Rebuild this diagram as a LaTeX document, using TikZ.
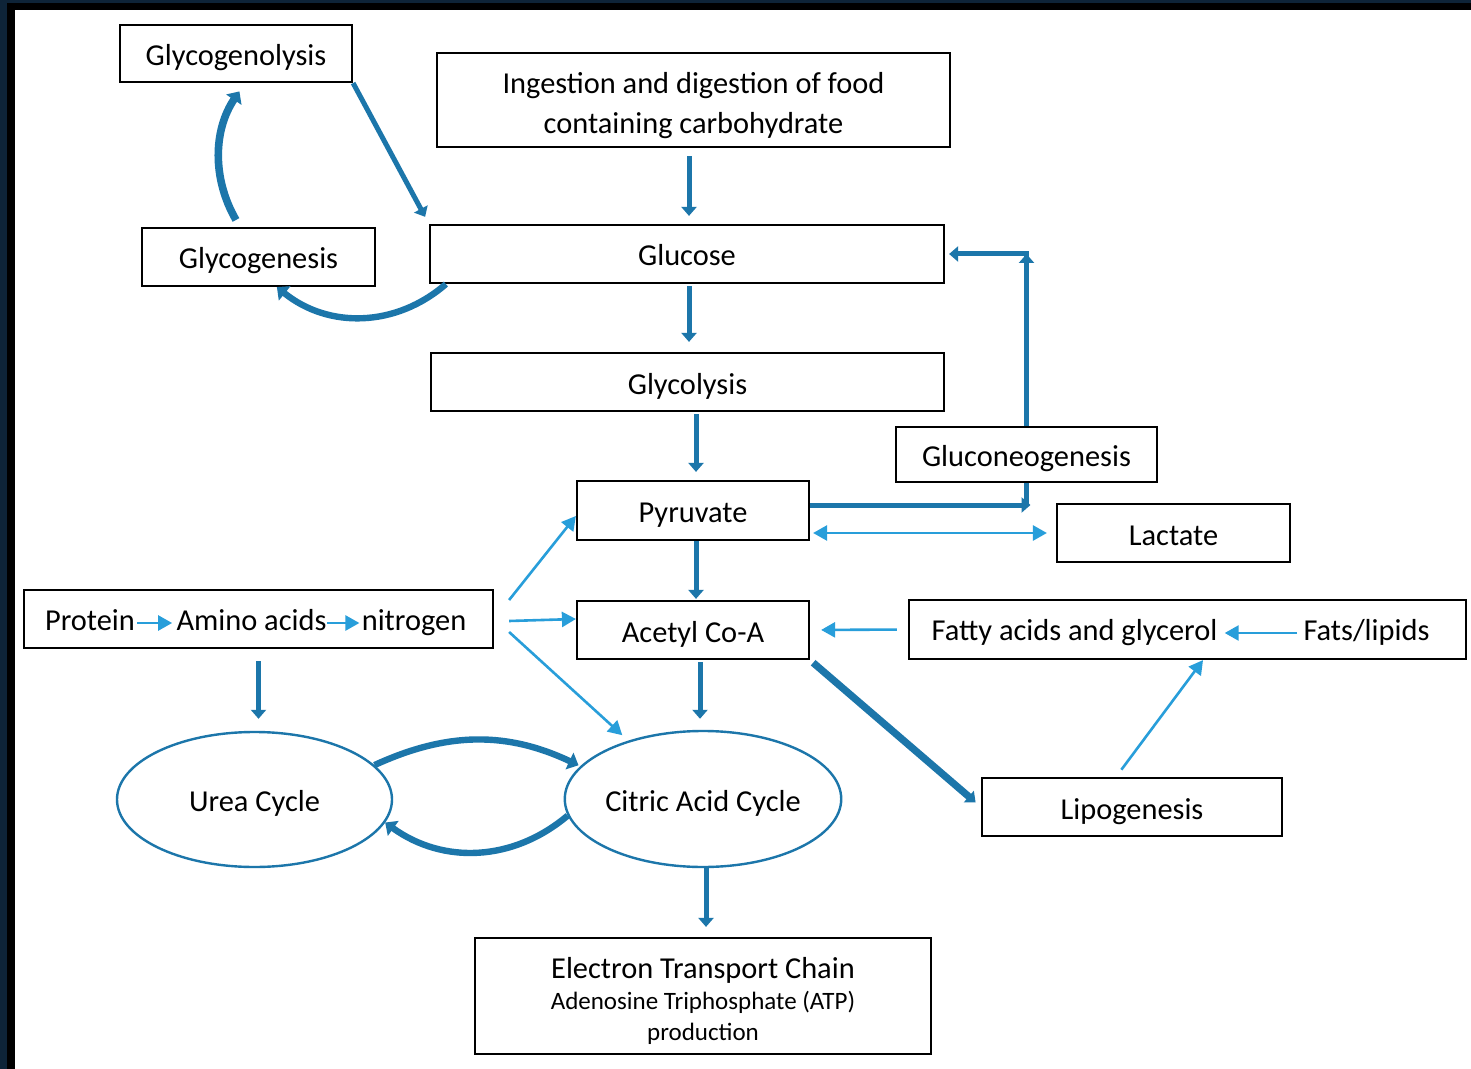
\documentclass[tikz,border=0pt]{standalone}
\usepackage{fontspec}
\setmainfont{Carlito}
\usetikzlibrary{arrows.meta,shapes.geometric}
\definecolor{pathblue}{RGB}{28,118,170}
\definecolor{fluxblue}{RGB}{40,158,218}
\definecolor{framenavy}{RGB}{14,36,56}
\tikzset{
  mainhead/.tip={Triangle[length=4.5pt,width=7.5pt]},
  sidehead/.tip={Triangle[length=7pt,width=7.5pt]},
  bendhead/.tip={Triangle[length=5pt,width=9pt]}
}

\begin{document}
\begin{tikzpicture}[x=0.5pt,y=-0.5pt,font=\fontsize{15.2}{19}\selectfont,
  box/.style={draw,line width=1.1pt,inner sep=0pt,text height=13.5pt,text depth=1.5pt},
  wordnode/.style={inner sep=0pt,text height=9pt,text depth=2pt},
  cyclenode/.style={ellipse,draw=pathblue,line width=1.2pt,inner sep=0pt,text height=13.5pt,text depth=1.5pt,minimum width=137.5pt,minimum height=67.5pt},
  mainflow/.style={draw=pathblue,line width=2.5pt,-mainhead},
  sideflow/.style={draw=fluxblue,line width=1.3pt,-sidehead},
  bendflow/.style={draw=pathblue,line width=3.2pt,-bendhead}]
\useasboundingbox (0,0) rectangle (1471,1069);
\fill[framenavy] (0,0) rectangle (1471,1069);
\fill[black] (7,3) rectangle (1471,1069);
\fill[white] (15,10) rectangle (1471,1069);

% boxes
\node[box,minimum width=116pt,minimum height=28.5pt] (glycogenolysis) at (236,53.5) {Glycogenolysis};
\node[draw,line width=1.1pt,align=center,inner sep=0pt,minimum width=256.5pt,minimum height=47pt,text height=36.5pt,text depth=3pt,font=\fontsize{15.2}{20}\selectfont] (ingestion) at (693.5,100) {Ingestion and digestion of food\\containing carbohydrate};
\node[box,minimum width=257pt,minimum height=29pt] (glucose) at (687,254) {Glucose};
\node[box,minimum width=116.5pt,minimum height=29pt] (glycogenesis) at (258.5,257) {Glycogenesis};
\node[box,minimum width=256.5pt,minimum height=29pt] (glycolysis) at (687.5,382) {Glycolysis};
\node[box,minimum width=130.5pt,minimum height=27.5pt] (gluconeogenesis) at (1026.5,454.5) {Gluconeogenesis};
\node[box,minimum width=116pt,minimum height=29.5pt] (pyruvate) at (693,510.5) {Pyruvate};
\node[box,minimum width=116.5pt,minimum height=29pt] (lactate) at (1173.5,533) {Lactate};
\node[box,minimum width=234.5pt,minimum height=29pt] (protein) at (258.5,619) {};
\node[wordnode] (proteinword) at (90,623) {Protein};
\node[wordnode] (aminoacids) at (251.5,623) {Amino acids};
\node[wordnode] (nitrogen) at (414,623) {nitrogen};
\node[box,minimum width=116pt,minimum height=29pt] (acetylcoa) at (693,630) {Acetyl Co-A};
\node[box,minimum width=278.5pt,minimum height=29.5pt] (fatty) at (1187.5,629.5) {};
\node[wordnode] (fattyacids) at (1074.5,633) {Fatty acids and glycerol};
\node[wordnode] (fats) at (1366.5,633) {Fats/lipids};
\node[cyclenode] (urea) at (254.5,799.5) {Urea Cycle};
\node[cyclenode,minimum width=138pt,minimum height=68pt] (citric) at (703,799) {Citric Acid Cycle};
\node[box,minimum width=150pt,minimum height=29pt] (lipogenesis) at (1132,807) {Lipogenesis};
\node[draw,line width=1.1pt,align=center,inner sep=0pt,minimum width=228pt,minimum height=58pt,text height=46.5pt,text depth=2.5pt,font=\fontsize{12.5}{15.5}\selectfont] (etc) at (703,996) {{\fontsize{15.2}{17}\selectfont Electron Transport Chain}\\Adenosine Triphosphate (ATP)\\production};

% main route
\draw[mainflow,shorten <=4pt,shorten >=4pt] ([xshift=1pt]glucose.north |- ingestion.south) -- ([xshift=1pt]glucose.north);
\draw[mainflow,shorten <=1pt,shorten >=5pt] ([xshift=1pt]glucose.south) -- ([xshift=1pt]glucose.south |- glycolysis.north);
\draw[mainflow,shorten <=1pt,shorten >=4pt] ([xshift=1.5pt]pyruvate.north |- glycolysis.south) -- ([xshift=1.5pt]pyruvate.north);
\draw[mainflow,shorten >=0.5pt] ([xshift=1.5pt]pyruvate.south) -- ([xshift=1.5pt]acetylcoa.north);
\draw[mainflow,shorten <=1pt,shorten >=5.5pt] ([xshift=-1.5pt]citric.north |- acetylcoa.south) -- ([xshift=-1.5pt]citric.north);
\draw[mainflow,shorten >=5pt] ([xshift=1.5pt]citric.south) -- ([xshift=1.5pt]etc.north);
\draw[mainflow,shorten <=6pt,shorten >=6pt] (protein.south) -- (protein.south |- urea.north);
\draw[mainflow,shorten >=4pt] (glycogenolysis.south east) -- (glucose.north west);
\draw[mainflow,line width=3.6pt,shorten <=2pt,shorten >=3.5pt] (acetylcoa.south east) -- (lipogenesis.west);

% back to glucose
\draw[mainflow,shorten >=2pt] (gluconeogenesis.north) |- (glucose.east);
\draw[mainflow] (gluconeogenesis.north) -- (gluconeogenesis.north |- glucose.east);
\coordinate (pyrtop) at ([yshift=2.75pt]pyruvate.east);
\coordinate (gluconeobend) at (gluconeogenesis.south |- pyrtop);
\draw[mainflow,shorten >=-2pt] (pyrtop) -- (gluconeobend);
\draw[mainflow,-] (gluconeogenesis.south) -- (gluconeobend);

% thin arrows
\draw[sideflow,sidehead-sidehead,shorten <=1.5pt,shorten >=4.5pt] (lactate.west -| pyruvate.east) -- (lactate.west);
\draw[sideflow] ([shift={(15,-19)}]protein.east) -- ([yshift=-2.75pt]pyruvate.west);
\draw[sideflow] ([shift={(15,2)}]protein.east) -- ([yshift=5.5pt]acetylcoa.west);
\draw[sideflow,shorten >=4pt] ([shift={(15,13)}]protein.east) -- (citric.142);
\draw[sideflow,shorten <=5.5pt,shorten >=5.5pt] (fatty.west) -- (acetylcoa.east);
\draw[sideflow,shorten <=3pt,shorten >=3.5pt] (fats.west) -- (fattyacids.east);
\draw[sideflow,shorten <=1pt,shorten >=2pt] (proteinword.east) -- (aminoacids.west);
\draw[sideflow,shorten >=1pt] (aminoacids.east) -- (nitrogen.west);
\draw[sideflow,shorten <=4.5pt] ([xshift=-8pt]lipogenesis.north) -- ([xshift=7.75pt]fatty.south);

% curved ones
\draw[bendflow,line width=3.8pt,shorten <=4pt,shorten >=5pt] ([xshift=-9.25pt]glycogenesis.north) to[bend left=32] ([xshift=4.5pt]glycogenolysis.south);
\draw[bendflow] ([xshift=8.5pt]glucose.south west) to[bend left=40] ([xshift=68pt]glycogenesis.south west);
\draw[bendflow,shorten >=1pt] (urea.16) to[bend left=25] (citric.165);
\draw[bendflow] (citric.187) to[bend left=38] (urea.-10);
\end{tikzpicture}
\end{document}
